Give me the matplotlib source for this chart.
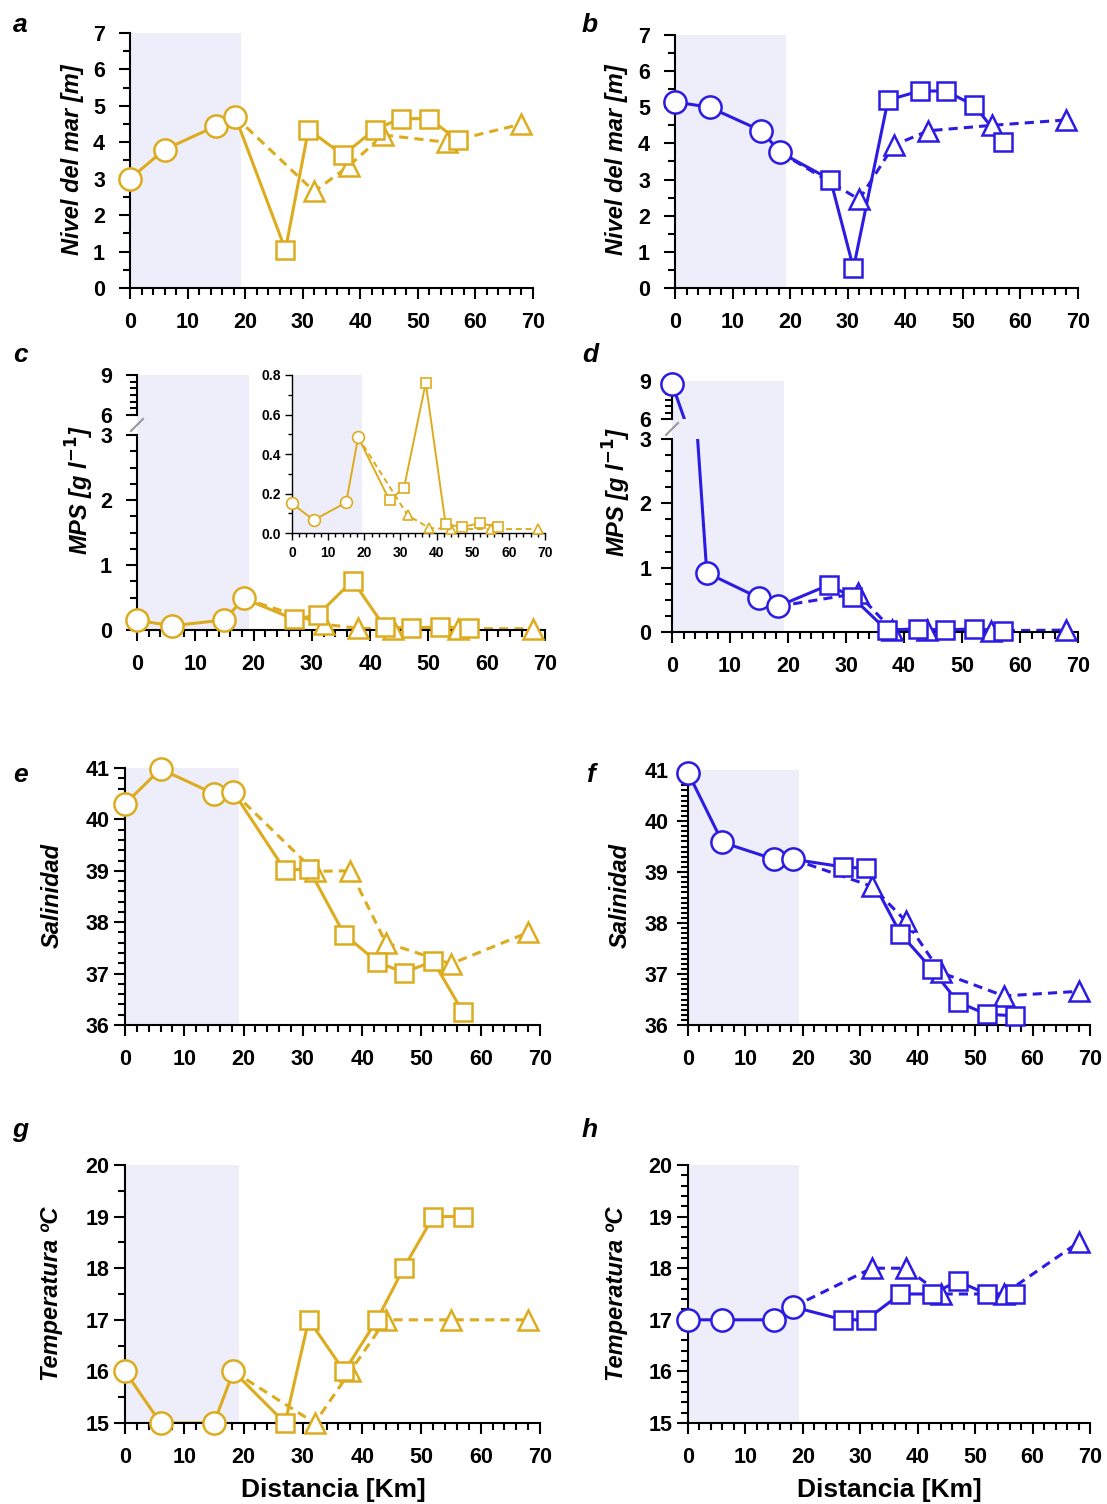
import numpy as np
import matplotlib
matplotlib.use("Agg")
import matplotlib.pyplot as plt
from matplotlib.ticker import MultipleLocator, FormatStrFormatter
from matplotlib.patches import Rectangle

plt.rcParams['font.family'] = ['Liberation Sans', 'DejaVu Sans']
plt.rcParams['font.weight'] = 'bold'

W, H = 1107, 1504
GOLD = '#DDAC1E'
BLUE = '#2B1BE3'
SHADE = '#EEEEFA'

# distancias (km) de cada grupo de estaciones
dist_circ = [0, 6, 15, 18.3]
dist_sq = [27, 31, 37, 42.5, 47, 52, 57]
dist_tri = [32, 38, 44, 55, 68]

# a / b: nivel del mar
nivel_a_circ = [3.0, 3.8, 4.45, 4.7]
nivel_a_sq = [1.05, 4.35, 3.65, 4.35, 4.65, 4.65, 4.05]
nivel_a_tri = [2.65, 3.35, 4.2, 4.0, 4.5]
nivel_b_circ = [5.15, 5.0, 4.35, 3.75]
nivel_b_sq = [3.0, 0.55, 5.2, 5.45, 5.45, 5.05, 4.05]
nivel_b_tri = [2.45, 3.95, 4.35, 4.5, 4.65]

# c / d: MPS
mps_c_circ = [0.15, 0.065, 0.155, 0.485]
mps_c_sq = [0.165, 0.23, 0.76, 0.045, 0.03, 0.05, 0.03]
mps_c_tri = [0.09, 0.025, 0.02, 0.02, 0.02]
mps_d_circ = [8.8, 0.92, 0.53, 0.4]
mps_d_sq = [0.73, 0.55, 0.03, 0.05, 0.03, 0.05, 0.02]
mps_d_tri = [0.6, 0.03, 0.03, 0.02, 0.03]

# e / f: salinidad
sal_e_circ = [40.3, 40.98, 40.5, 40.53]
sal_e_sq = [39.01, 39.04, 37.76, 37.23, 37.02, 37.24, 36.25]
sal_e_tri = [38.99, 39.0, 37.6, 37.19, 37.8]
sal_f_circ = [40.95, 39.58, 39.25, 39.25]
sal_f_sq = [39.1, 39.07, 37.79, 37.09, 36.45, 36.21, 36.18]
sal_f_tri = [38.72, 38.03, 37.03, 36.57, 36.66]

# g / h: temperatura
temp_g_circ = [16, 15, 15, 16]
temp_g_sq = [15, 17, 16, 17, 18, 19, 19]
temp_g_tri = [15, 16, 17, 17, 17]
temp_h_circ = [17, 17, 17, 17.25]
temp_h_sq = [17, 17, 17.5, 17.5, 17.75, 17.5, 17.5]
temp_h_tri = [18, 18, 17.5, 17.5, 18.5]

SHADE_END = 19.3

fig = plt.figure(figsize=(W / 100, H / 100), dpi=100)


def add_ax(l, r, t, b):
    return fig.add_axes([l / W, 1 - b / H, (r - l) / W, (b - t) / H])


def style(ax, ymaj, ymin, fs=15.5, ypad=4, xaxis=True, small=False):
    for s in ['top', 'right']:
        ax.spines[s].set_visible(False)
    lw = 1.0 if small else 1.5
    ax.spines['left'].set_linewidth(lw)
    ax.spines['bottom'].set_linewidth(lw)
    ax.set_xlim(0, 70)
    ax.xaxis.set_major_locator(MultipleLocator(10))
    ax.xaxis.set_minor_locator(MultipleLocator(2))
    ax.yaxis.set_major_locator(MultipleLocator(ymaj))
    ax.yaxis.set_minor_locator(MultipleLocator(ymin))
    L = 5 if small else 8
    ax.tick_params(which='major', length=L, width=lw, labelsize=fs)
    ax.tick_params(axis='y', which='major', pad=ypad)
    ax.tick_params(axis='x', which='major', pad=4 if small else 9)
    ax.tick_params(which='minor', length=L * 0.6, width=lw)
    if not xaxis:
        ax.spines['bottom'].set_visible(False)
        ax.tick_params(axis='x', which='both', bottom=False, labelbottom=False)
    ax.patch.set_alpha(0)


def draw(ax, circ, sq, tri, color, ms=16, lw=2.2, mew=1.8, lo=None, hi=None):
    ax.axvspan(0, SHADE_END, color=SHADE, zorder=0, lw=0)
    ax.plot(dist_circ + dist_sq, circ + sq, '-', color=color, lw=lw, zorder=2)
    ax.plot([dist_circ[-1]] + dist_tri, [circ[-1]] + tri, '--', color=color,
            lw=lw, dashes=(3, 2), zorder=2)
    for xx, yy, m, s, z in [(dist_tri, tri, '^', ms * 0.9, 3),
                            (dist_sq, sq, 's', ms * 0.85, 4),
                            (dist_circ, circ, 'o', ms, 5)]:
        pts = [(a, b) for a, b in zip(xx, yy) if lo is None or lo <= b <= hi]
        if not pts:
            continue
        px, py = zip(*pts)
        ax.plot(px, py, m, ms=s, mfc='white', mec=color, mew=mew, ls='none',
                clip_on=False, zorder=z)


def ylabel(x, y, txt):
    fig.text(x / W, 1 - y / H, txt, rotation=90, ha='center', va='center',
             style='italic', weight='bold', size=17)


def letter(x, y, txt):
    fig.text(x / W, 1 - y / H, txt, ha='center', va='center',
             style='italic', weight='bold', size=19)


def broken(l, r, t_up, b_up, t_lo, b_lo, circ, sq, tri, color, ypad):
    up = add_ax(l, r, t_up, b_up)
    lo = add_ax(l, r, t_lo, b_lo)
    draw(up, circ, sq, tri, color, lo=6, hi=9)
    draw(lo, circ, sq, tri, color, lo=0, hi=3)
    up.set_ylim(6, 9)
    lo.set_ylim(0, 3)
    style(up, 3, 0.5, xaxis=False, ypad=ypad)
    style(lo, 1, 0.25, ypad=ypad)
    # sombreado continuo en el hueco del corte
    wpx = SHADE_END / 70 * (r - l)
    fig.add_artist(Rectangle((l / W, 1 - t_lo / H), wpx / W, (t_lo - b_up) / H,
                             transform=fig.transFigure, color=SHADE, lw=0,
                             zorder=0))
    # marca de corte del eje
    gy = (b_up + t_lo) / 2
    fig.add_artist(plt.Line2D([(l - 6) / W, (l + 6) / W],
                              [1 - (gy + 6) / H, 1 - (gy - 6) / H],
                              color='#999999', lw=1.5))
    return up, lo


# a
ax = add_ax(130, 533, 33, 288)
draw(ax, nivel_a_circ, nivel_a_sq, nivel_a_tri, GOLD)
ax.set_ylim(0, 7)
style(ax, 1, 0.5, ypad=10)
# b
ax = add_ax(675, 1078, 35, 288)
draw(ax, nivel_b_circ, nivel_b_sq, nivel_b_tri, BLUE)
ax.set_ylim(0, 7)
style(ax, 1, 0.5, ypad=10)

# c
broken(137, 545, 375, 415, 435, 630, mps_c_circ, mps_c_sq, mps_c_tri, GOLD, 10)
ins = add_ax(292, 545, 375, 533)
draw(ins, mps_c_circ, mps_c_sq, mps_c_tri, GOLD, ms=8.5, lw=1.4, mew=1.2)
ins.set_ylim(0, 0.8)
style(ins, 0.2, 0.1, fs=10, small=True, ypad=3)
ins.yaxis.set_major_formatter(FormatStrFormatter('%.1f'))
# d
broken(672, 1078, 381, 419, 439, 632, mps_d_circ, mps_d_sq, mps_d_tri, BLUE, 7)

# e
ax = add_ax(125, 540, 768, 1025)
draw(ax, sal_e_circ, sal_e_sq, sal_e_tri, GOLD)
ax.set_ylim(36, 41)
style(ax, 1, 0.2, ypad=3)
# f
ax = add_ax(688, 1090, 770, 1025)
draw(ax, sal_f_circ, sal_f_sq, sal_f_tri, BLUE)
ax.set_ylim(36, 41)
style(ax, 1, 0.1, ypad=6)

# g
ax = add_ax(125, 540, 1165, 1423)
draw(ax, temp_g_circ, temp_g_sq, temp_g_tri, GOLD)
ax.set_ylim(15, 20)
style(ax, 1, 0.5, ypad=3)
# h
ax = add_ax(688, 1090, 1165, 1423)
draw(ax, temp_h_circ, temp_h_sq, temp_h_tri, BLUE)
ax.set_ylim(15, 20)
style(ax, 1, 0.2, ypad=3)

ylabel(72, 160, 'Nivel del mar [m]')
ylabel(617, 160, 'Nivel del mar [m]')
ylabel(80, 490, 'MPS [g l$^{-1}$]')
ylabel(617, 492, 'MPS [g l$^{-1}$]')
ylabel(52, 896, 'Salinidad')
ylabel(620, 896, 'Salinidad')
ylabel(52, 1294, 'Temperatura ºC')
ylabel(617, 1294, 'Temperatura ºC')

for x, y, t in [(20, 25, 'a'), (590, 25, 'b'), (20, 355, 'c'), (590, 355, 'd'),
                (20, 775, 'e'), (590, 775, 'f'), (20, 1130, 'g'), (590, 1130, 'h')]:
    letter(x, y, t)

fig.text(333 / W, 1 - 1490 / H, 'Distancia [Km]', ha='center', va='center',
         weight='bold', size=19)
fig.text(889 / W, 1 - 1490 / H, 'Distancia [Km]', ha='center', va='center',
         weight='bold', size=19)

fig.savefig('out.png', dpi=100, facecolor='white')
